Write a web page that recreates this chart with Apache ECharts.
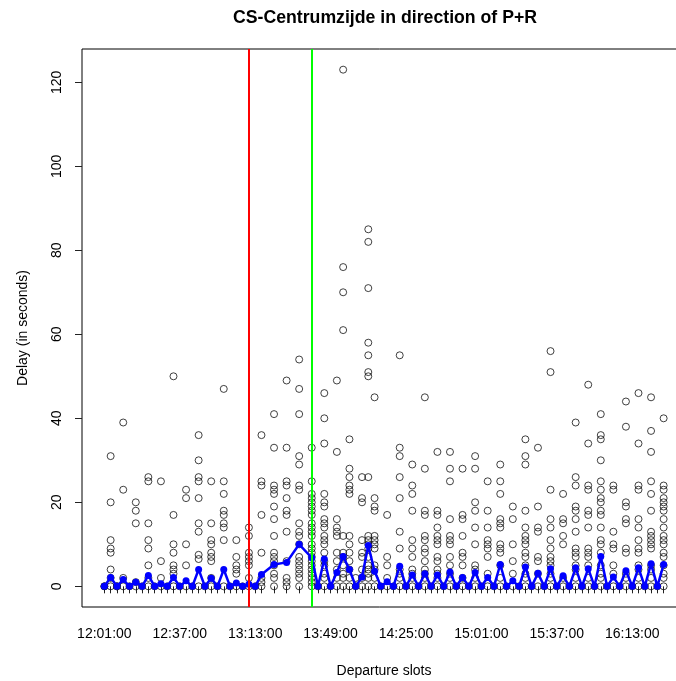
<!DOCTYPE html>
<html>
<head>
<meta charset="utf-8">
<script src="https://cdn.jsdelivr.net/npm/echarts@6/dist/echarts.min.js"></script>
<style>
html,body{margin:0;padding:0;background:#fff;}
#chart{width:676px;height:681px;}
</style>
</head>
<body>
<div id="chart"></div>
<script>
// ---- data ----
const slotTimes = [
  "12:01:00","12:04:00","12:07:00","12:10:00","12:13:00","12:16:00","12:19:00","12:22:00","12:25:00","12:28:00",
  "12:31:00","12:34:00","12:37:00","12:40:00","12:43:00","12:46:00","12:49:00","12:52:00","12:55:00","12:58:00",
  "13:01:00","13:04:00","13:07:00","13:10:00","13:13:00","13:16:00","13:22:00","13:28:00","13:34:00","13:40:00",
  "13:43:00","13:46:00","13:49:00","13:52:00","13:55:00","13:58:00","14:01:00","14:04:00","14:07:00","14:10:00",
  "14:13:00","14:16:00","14:19:00","14:22:00","14:25:00","14:28:00","14:31:00","14:34:00","14:37:00","14:40:00",
  "14:43:00","14:46:00","14:49:00","14:52:00","14:55:00","14:58:00","15:01:00","15:04:00","15:07:00","15:10:00",
  "15:13:00","15:16:00","15:19:00","15:22:00","15:25:00","15:28:00","15:31:00","15:34:00","15:37:00","15:40:00",
  "15:43:00","15:46:00","15:49:00","15:52:00","15:55:00","15:58:00","16:01:00","16:04:00","16:07:00","16:10:00",
  "16:13:00","16:16:00","16:19:00","16:22:00","16:25:00","16:28:00"
];

// observed delays (seconds) per departure slot
const delaysPerSlot = [
  [0,0],
  [31,20,11,9,8,4,2,0],
  [0,0],
  [39,23,2,0],
  [0],
  [20,18,15,1,0],
  [0],
  [26,25,15,11,9,5,2,0],
  [0],
  [25,6,2,0],
  [0],
  [50,17,10,8,5,4,3,0],
  [0],
  [23,21,10,5,0],
  [0],
  [36,30,26,25,21,15,13,7.5,6.5,0],
  [0],
  [25,15,11,10,8,7,6,2,0],
  [0],
  [47,25,22,18,17,15,14,11,0],
  [0],
  [11,7,5,4,3,0],
  [0],
  [14,12,8,7,6,5,2,0],
  [0],
  [36,25,24,17,8,2,1,0],
  [41,33,24,23,22,19,16,12,8,7,6,5,3,2,0],
  [49,33,25,24,21,18,17,13,6,2,1,0],
  [54,47,41,31,29,24,23,15,13,12,10,7,6,5,4,3,2,0],
  [33,25,22,21,20,19,18,17,15,14,13,12,10,9,8,7,6,5,4,3,2,1,0],
  [0],
  [46,40,34,22,20,19,16,15,14,12,11,10,8,6,5,3,2,0],
  [0],
  [49,32,16,14,13,12,8,6,4,2,0],
  [123,76,70,61,12,8,7,5,3,2,0],
  [35,28,26,24,23,22,12,10,8,6,4,2,0],
  [2,0],
  [26,21,20,11,8,7,4,2,0],
  [85,82,71,58,55,51,50,26,12,11,10,9,7,5,4,3,2,0],
  [45,21,19,18,12,11,10,9,5,4,2,0],
  [0],
  [17,7,5,2,0],
  [0],
  [55,33,31,26,21,13,9,4,3,2,0],
  [0],
  [29,24,22,18,11,9,7,4,3,2,0],
  [0],
  [45,28,18,17,12,11,9,8,6,4,3,2,0],
  [0],
  [32,18,17,14,12,11,10,7,6,4,3,2,0],
  [0],
  [32,28,25,16,12,11,10,7,5,3,2,0],
  [0],
  [28,17,16,12,8,7,5,2,0],
  [0],
  [31,28,20,18,14,10,5,4,2,0],
  [0],
  [25,18,14,11,10,9,7,3,0],
  [0],
  [29,25,22,16,15,14,10,9,8,5,2,0],
  [0],
  [19,16,10,6,3,0],
  [0],
  [35,31,29,18,14,12,11,10,8,7,5,3,2,0],
  [0],
  [33,19,14,13,7,6,3,0],
  [0],
  [56,51,23,16,14,11,9,7,6,5,3,2,0],
  [0],
  [22,16,15,12,10,2,0],
  [0],
  [39,26,24,19,18,16,13,9,8,7,5,4,2,0],
  [0],
  [48,34,24,23,18,17,14,9,8,7,5,2,0],
  [0],
  [41,36,35,30,25,23,21,20,18,17,14,11,10,8,5,3,2,0],
  [0],
  [24,23,13,10,9,5,3,0],
  [0],
  [44,38,20,19,16,15,9,8,3,2,0],
  [0],
  [46,34,24,23,16,14,11,9,8,5,4,2,0],
  [0],
  [45,37,32,25,22,18,13,12,11,10,9,5,4,2,0],
  [0],
  [40,24,23,21,20,19,18,16,14,12,11,10,8,7,5,3,2,0]
];

// mean delay per slot (blue line)
const meanDelay = [
  0,2.1,0,1.6,0,1.0,0,2.6,0,0.6,
  0,2.1,0,1.3,0,4.0,0,1.9,0,4.0,
  0,0.8,0,0.5,0,2.8,5.2,5.7,10.0,6.8,
  0,6.5,0,3.3,7.1,4.0,0,2.2,9.7,3.6,
  0,1.1,0,4.8,0,2.7,0,3.0,0,2.7,
  0,3.4,0,2.1,0,3.3,0,2.1,0,5.2,
  0,1.3,0,4.6,0,3.1,0,4.2,0,2.5,
  0,4.4,0,4.2,0,7.1,0,2.2,0,3.7,
  0,4.4,0,5.4,0,5.2
];

const xLabelTimes = ["12:01:00","12:37:00","13:13:00","13:49:00","14:25:00","15:01:00","15:37:00","16:13:00"];
const yTicks = [0,20,40,60,80,100,120];
const redLineTime = "13:10:00";
const greenLineTime = "13:40:00";

const titleText = "CS-Centrumzijde in direction of P+R";
const xName = "Departure slots";
const yName = "Delay (in seconds)";

// ---- helpers ----
function toMin(s){ const p = s.split(":").map(Number); return p[0]*60 + p[1] + p[2]/60; }
function fmt(m){ const h = Math.floor(m/60), mm = Math.round(m - h*60); return String(h).padStart(2,"0")+":"+String(mm).padStart(2,"0")+":00"; }

const slotMin = slotTimes.map(toMin);
const scatterData = [];
delaysPerSlot.forEach((arr,i)=>arr.forEach(v=>scatterData.push([slotMin[i], v])));
const meanData = meanDelay.map((v,i)=>[slotMin[i], v]);

const xMinData = Math.min(...slotMin), xMaxData = Math.max(...slotMin);
const xPad = 0.04*(xMaxData - xMinData);
const allY = scatterData.map(d=>d[1]);
const yMinData = Math.min(...allY), yMaxData = Math.max(...allY);
const yPad = 0.04*(yMaxData - yMinData);

const FONT = "'Liberation Sans', Arial, sans-serif";

const chart = echarts.init(document.getElementById('chart'), null, {renderer:'canvas'});
chart.setOption({
  animation: false,
  backgroundColor: '#ffffff',
  title: {
    text: titleText, left: 380, top: 4, textAlign: 'center',
    textStyle: {fontFamily: FONT, fontSize: 17.7, fontWeight: 'bold', color: '#000'}
  },
  grid: {
    left: 82, top: 49, width: 604, height: 558,
    show: true, borderColor: '#000', borderWidth: 1, backgroundColor: 'transparent',
    containLabel: false, outerBoundsMode: 'none'
  },
  xAxis: {
    type: 'value',
    min: xMinData - xPad, max: xMaxData + xPad,
    name: xName, nameLocation: 'middle', nameGap: 57,
    nameTextStyle: {fontFamily: FONT, fontSize: 14, color: '#000'},
    axisLine: {show: false},
    splitLine: {show: false},
    axisTick: {show: true, length: 7, lineStyle: {color: '#222', width: 1}, customValues: slotMin},
    axisLabel: {
      show: true, margin: 20, customValues: xLabelTimes.map(toMin),
      formatter: v => fmt(v),
      fontFamily: FONT, fontSize: 14, color: '#000'
    }
  },
  yAxis: {
    type: 'value',
    min: yMinData - yPad, max: yMaxData + yPad,
    name: yName, nameLocation: 'middle', nameGap: 52, nameRotate: 90,
    nameTextStyle: {fontFamily: FONT, fontSize: 14, color: '#000'},
    axisLine: {show: false},
    splitLine: {show: false},
    axisTick: {show: true, length: 7, lineStyle: {color: '#222', width: 1}, customValues: yTicks},
    axisLabel: {
      show: true, margin: 18, rotate: 90, customValues: yTicks,
      align: 'center', verticalAlign: 'bottom',
      fontFamily: FONT, fontSize: 14, color: '#000'
    }
  },
  series: [
    {
      type: 'scatter', data: scatterData, symbol: 'circle', symbolSize: 7, z: 2,
      itemStyle: {color: 'rgba(0,0,0,0)', borderColor: '#111', borderWidth: 1},
      silent: true,
      markLine: {
        silent: true, symbol: ['none','none'], label: {show: false}, animation: false,
        data: [
          {xAxis: toMin(redLineTime), lineStyle: {color: '#ff0000', width: 2, type: 'solid'}},
          {xAxis: toMin(greenLineTime), lineStyle: {color: '#00ff00', width: 2, type: 'solid'}}
        ]
      }
    },
    {
      type: 'line', data: meanData, symbol: 'circle', symbolSize: 7, showAllSymbol: true, z: 4,
      lineStyle: {color: '#0000ff', width: 2.5},
      itemStyle: {color: '#0000ff'},
      silent: true
    }
  ]
});
</script>
</body>
</html>
